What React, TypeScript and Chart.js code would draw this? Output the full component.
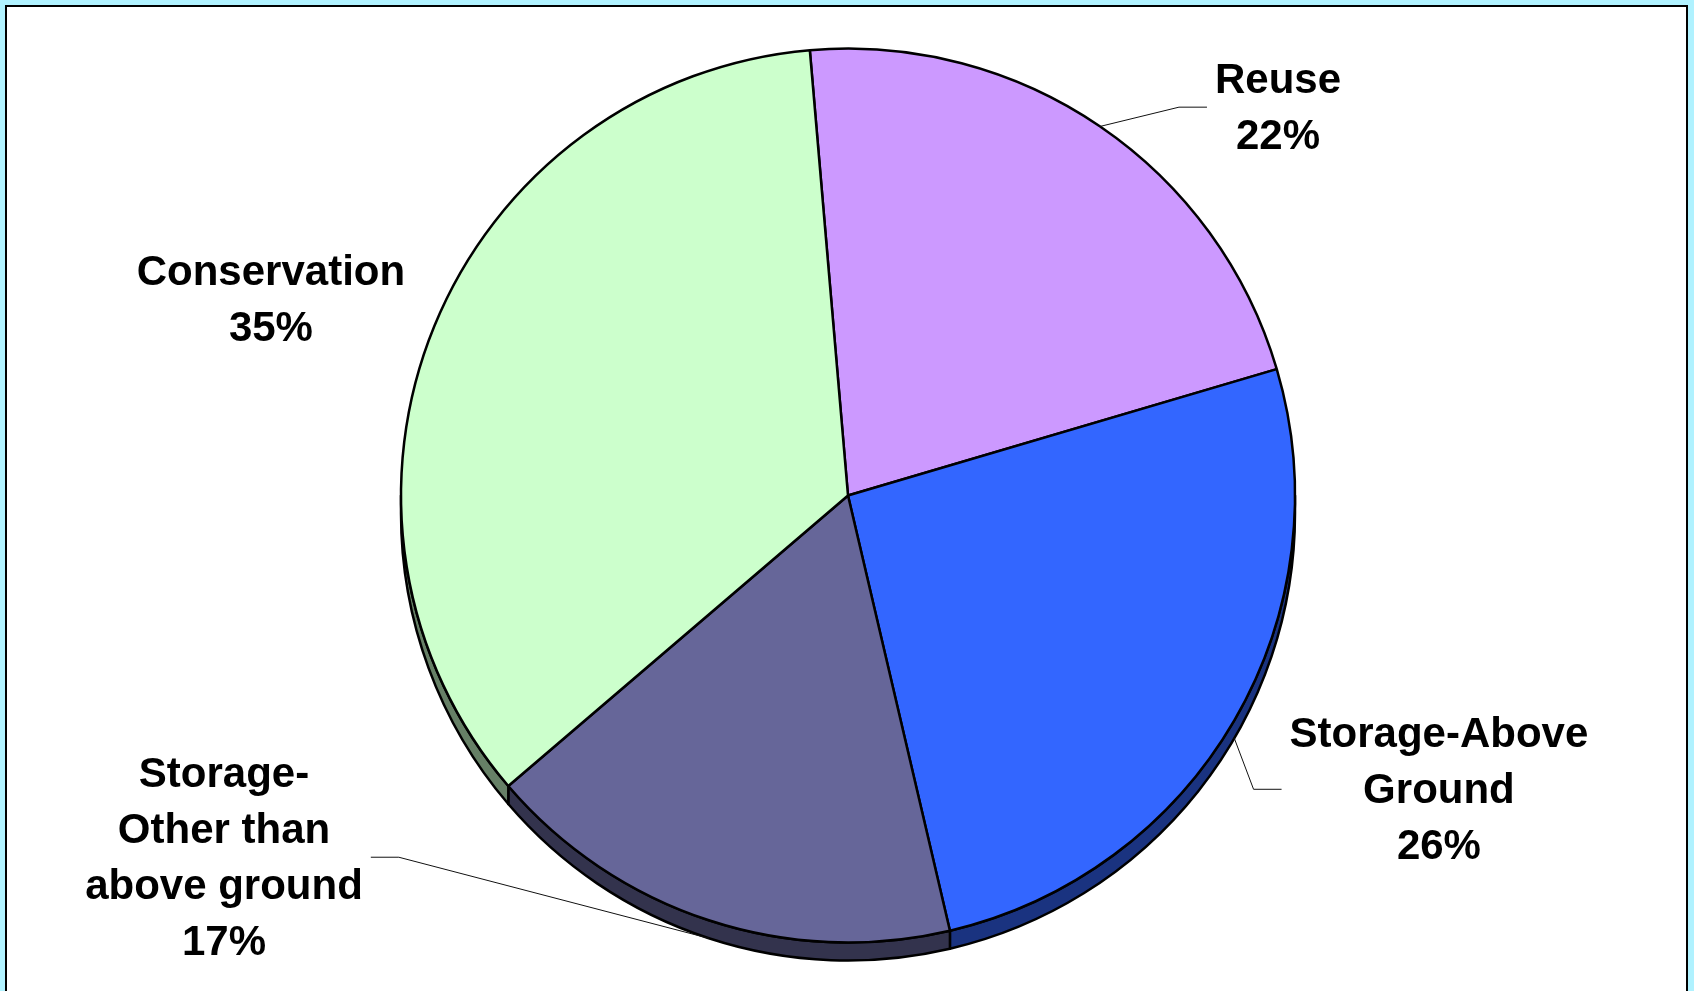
import React, { useEffect, useRef } from 'react';
import { Chart, registerables } from 'chart.js';

Chart.register(...registerables);

// ---- data ----
const categories = ['Reuse', 'Storage-Above Ground', 'Storage-Other than above ground', 'Conservation'];
const shares = [21.8, 25.9, 17.4, 34.9];
const labelNameLines = [['Reuse'], ['Storage-Above', 'Ground'], ['Storage-', 'Other than', 'above ground'], ['Conservation']];
const topColors = ['#CC99FF', '#3366FF', '#666699', '#CCFFCC'];
const sideColors = ['#664D80', '#1A3380', '#33334D', '#668066'];

// ---- layout / style ----
const W = 1694;
const H = 991;
const PIE_RADIUS = 447;
const DEPTH = 18;
const FONT = 'bold 42px "Liberation Sans", Arial, Helvetica, sans-serif';
const LINE_H = 56;
// label centre offsets from pie centre, in units of the radius
const labelOffsets = [
  [0.962, -0.871],
  [1.322, 0.655],
  [-1.396, 0.807],
  [-1.291, -0.441],
];
const hasLeader = [true, true, true, false];

const pie3dPlugin = {
  id: 'pie3d',
  beforeDatasetsDraw(chart: any) {
    const ctx: CanvasRenderingContext2D = chart.ctx;
    const meta = chart.getDatasetMeta(0);
    ctx.save();
    meta.data.forEach((el: any, i: number) => {
      const p = el.getProps(['x', 'y', 'startAngle', 'endAngle', 'outerRadius'], true);
      const a0 = Math.max(p.startAngle, 0);
      const a1 = Math.min(p.endAngle, Math.PI);
      if (a1 <= a0) return;
      ctx.beginPath();
      ctx.arc(p.x, p.y, p.outerRadius, a0, a1);
      ctx.arc(p.x, p.y + DEPTH, p.outerRadius, a1, a0, true);
      ctx.closePath();
      ctx.fillStyle = sideColors[i];
      ctx.fill();
      ctx.lineWidth = 2.5;
      ctx.lineJoin = 'round';
      ctx.strokeStyle = '#000';
      ctx.stroke();
    });
    ctx.restore();
  },
  afterDatasetsDraw(chart: any) {
    const ctx: CanvasRenderingContext2D = chart.ctx;
    const meta = chart.getDatasetMeta(0);
    ctx.save();
    ctx.font = FONT;
    ctx.fillStyle = '#000';
    ctx.textAlign = 'center';
    ctx.textBaseline = 'alphabetic';
    meta.data.forEach((el: any, i: number) => {
      const p = el.getProps(['x', 'y', 'startAngle', 'endAngle', 'outerRadius'], true);
      const R = p.outerRadius;
      const cx = p.x + labelOffsets[i][0] * R;
      const cy = p.y + labelOffsets[i][1] * R;
      const lines = [...labelNameLines[i], `${Math.round(shares[i])}%`];
      const n = lines.length;
      const first = cy - ((n - 1) * LINE_H) / 2 + 15;
      let maxW = 0;
      lines.forEach((t, k) => {
        ctx.fillText(t, cx, first + k * LINE_H);
        maxW = Math.max(maxW, ctx.measureText(t).width);
      });
      if (hasLeader[i]) {
        const mid = (p.startAngle + p.endAngle) / 2;
        const sx = p.x + R * Math.cos(mid);
        const sy = p.y + R * Math.sin(mid) + (Math.sin(mid) > 0 ? DEPTH : 0);
        const left = sx < cx;
        const endX = left ? cx - maxW / 2 - 8 : cx + maxW / 2 + 8;
        const elbowX = left ? endX - 28 : endX + 28;
        const ly = cy + 1;
        ctx.beginPath();
        ctx.moveTo(sx, sy);
        ctx.lineTo(elbowX, ly);
        ctx.lineTo(endX, ly);
        ctx.lineWidth = 1;
        ctx.strokeStyle = '#111';
        ctx.stroke();
      }
    });
    ctx.restore();
  },
};

export default function App() {
  const ref = useRef<HTMLCanvasElement | null>(null);

  useEffect(() => {
    document.body.style.margin = '0';
    const canvas = ref.current;
    if (!canvas) return;
    const chart = new Chart(canvas, {
      type: 'pie',
      data: {
        labels: categories,
        datasets: [
          {
            data: shares,
            backgroundColor: topColors,
            borderColor: '#000',
            borderWidth: 2.5,
            radius: PIE_RADIUS,
          } as any,
        ],
      },
      options: {
        animation: false,
        responsive: false,
        events: [],
        rotation: -4.9,
        layout: { padding: { left: 2, right: 0, top: 0, bottom: 0 } },
        plugins: {
          legend: { display: false },
          tooltip: { enabled: false },
        },
      },
      plugins: [pie3dPlugin],
    });
    return () => chart.destroy();
  }, []);

  return (
    <div
      style={{
        position: 'relative',
        width: W,
        height: H,
        overflow: 'hidden',
        background: '#B0F2FF',
      }}
    >
      <div
        style={{
          position: 'absolute',
          left: 5,
          top: 5,
          width: 1679,
          height: 1100,
          background: '#FFFFFF',
          border: '2.5px solid #000',
        }}
      />
      <canvas
        ref={ref}
        width={W}
        height={H}
        style={{ position: 'absolute', left: 0, top: 0, width: W, height: H }}
      />
    </div>
  );
}
